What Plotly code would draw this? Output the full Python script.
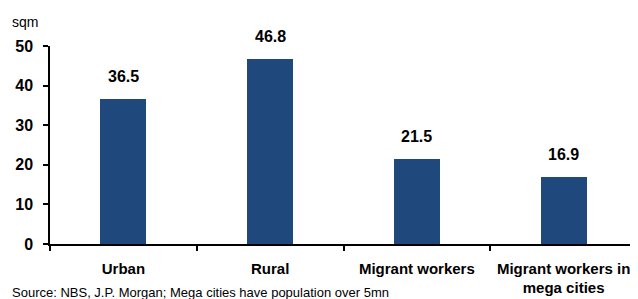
import plotly.graph_objects as go

categories = ["Urban", "Rural", "Migrant workers", "Migrant workers in<br>mega cities"]
values = [36.5, 46.8, 21.5, 16.9]
y_ticks = [0, 10, 20, 30, 40, 50]

FONT = "Liberation Sans Narrow, Arial Narrow, Liberation Sans, Arial, sans-serif"
BAR = "#1F487C"

fig = go.Figure()
fig.add_trace(go.Bar(x=categories, y=values, marker=dict(color=BAR, line=dict(width=0)),
                     width=0.313, hoverinfo="x+y"))

for c, v in zip(categories, values):
    fig.add_annotation(x=c, y=v, text=f"<b>{v:.1f}</b>", showarrow=False,
                       yanchor="bottom", yshift=12,
                       font=dict(family=FONT, size=16, color="black"))

fig.add_annotation(xref="paper", yref="paper", x=-0.068, y=1.121, xanchor="left", yanchor="middle",
                   text="sqm", showarrow=False, font=dict(family=FONT, size=14, color="black"))
fig.add_annotation(xref="paper", yref="paper", x=-0.068, y=-0.245, xanchor="left", yanchor="middle",
                   text="Source: NBS, J.P. Morgan; Mega cities have population over 5mn",
                   showarrow=False, font=dict(family=FONT, size=13, color="black"))

fig.update_layout(
    width=630, height=291,
    margin=dict(l=42, r=1, t=38, b=55, autoexpand=False),
    plot_bgcolor="white", paper_bgcolor="white",
    showlegend=False,
    font=dict(family=FONT, color="black"),
    bargap=0,
)
fig.update_xaxes(
    type="category", tickson="boundaries", ticks="outside", ticklen=5, tickwidth=1.5,
    tickcolor="black", showline=True, linecolor="black", linewidth=1.5,
    showgrid=False, tickfont=dict(family=FONT, size=15, color="black"),
    ticktext=[f"<b>{c}</b>" for c in categories], tickvals=categories,
    range=[-0.5, 3.5], ticklabelstandoff=10, tickangle=0, automargin=False,
)
fig.update_yaxes(
    range=[0, 50], tickvals=y_ticks, ticktext=[f"<b>{t}</b>" for t in y_ticks],
    ticks="outside", ticklen=5, tickwidth=1.5, tickcolor="black",
    showline=True, linecolor="black", linewidth=1.5, showgrid=False, zeroline=False,
    tickfont=dict(family=FONT, size=16, color="black"), ticklabelstandoff=7,
    automargin=False,
)

fig.write_html("out.html")
